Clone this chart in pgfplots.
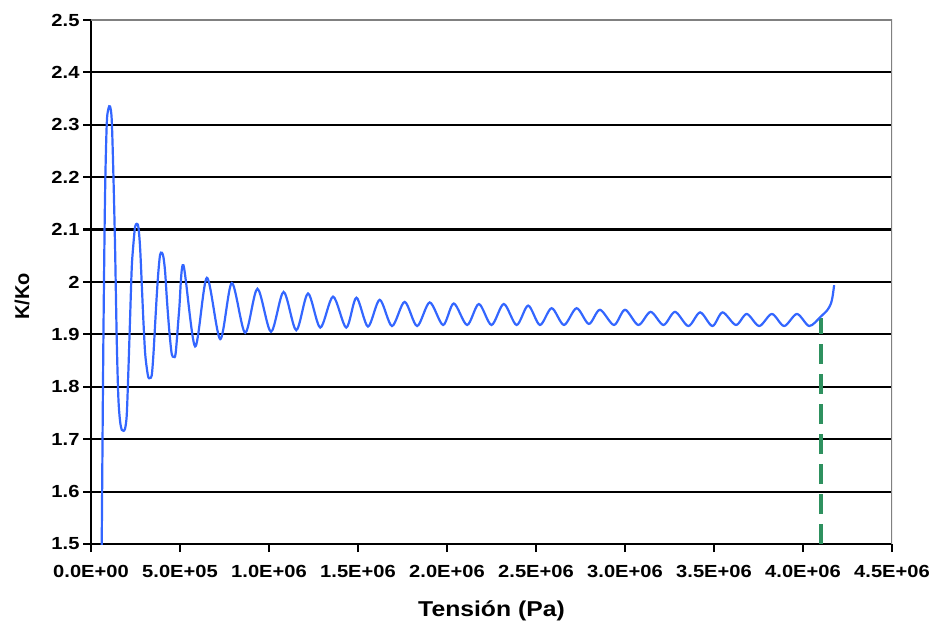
\documentclass[border=0pt]{standalone}
\usepackage{pgfplots}
\pgfplotsset{compat=1.18}
\usepackage{fontspec}
\setmainfont{Liberation Sans}
\newfontfamily\tickfont{Liberation Sans}[FakeStretch=1.15]
\definecolor{curveblue}{RGB}{51,102,255}
\definecolor{dashgreen}{RGB}{46,145,95}
\definecolor{framegray}{RGB}{128,128,128}
\begin{document}
\begin{tikzpicture}
\path[use as bounding box] (0,0) rectangle (931pt,624pt);
\begin{axis}[
  at={(91pt,80pt)}, anchor=south west,
  scale only axis, width=801pt, height=524pt,
  xmin=0, xmax=4500000, ymin=1.5, ymax=2.5,
  axis x line=bottom, axis y line=left,
  axis line style={-, line width=2.5pt, black},
  scaled x ticks=false, scaled y ticks=false,
  xtick={0,500000,1000000,1500000,2000000,2500000,3000000,3500000,4000000,4500000},
  xticklabels={0.0E+00,5.0E+05,1.0E+06,1.5E+06,2.0E+06,2.5E+06,3.0E+06,3.5E+06,4.0E+06,4.5E+06},
  ytick={1.5,1.6,1.7,1.8,1.9,2.0,2.1,2.2,2.3,2.4,2.5},
  yticklabels={1.5,1.6,1.7,1.8,1.9,2,2.1,2.2,2.3,2.4,2.5},
  tick align=outside, major tick length=8pt,
  major tick style={line width=2.2pt, black},
  ticklabel style={font=\tickfont\bfseries\fontsize{17.5}{20}\selectfont},
  xticklabel style={yshift=-10pt},
  ymajorgrids, grid style={black, line width=2.2pt},
  xlabel={Tensión (Pa)},
  ylabel={K/Ko},
  xlabel style={font=\tickfont\bfseries\fontsize{21.5}{26}\selectfont, at={(axis description cs:0.5,-0.1393)}, anchor=base},
  ylabel style={font=\bfseries\fontsize{20}{24}\selectfont, at={(axis description cs:-0.0861,0.473)}, anchor=center},
  clip=true,
]
\draw[framegray, line width=2.5pt] (rel axis cs:0,1) -- (rel axis cs:1,1) -- (rel axis cs:1,0);
\addplot[dashgreen, line width=4pt, dash pattern=on 20pt off 10pt] coordinates {(4100000,1.5) (4100000,1.931)};
\addplot[curveblue, line width=2.2pt, smooth, tension=0.5] coordinates {
(60000,1.49) (69200,1.876) (78750,2.162) (88300,2.300) (97300,2.330) (106900,2.335)
(116400,2.310) (125400,2.210) (135000,2.070) (144600,1.890) (153600,1.780) (163100,1.735)
(172700,1.718) (181700,1.716) (191250,1.720) (200800,1.746) (209800,1.828) (219400,1.929)
(228900,2.027) (237900,2.071) (247500,2.105) (257100,2.111) (266100,2.105) (275600,2.067)
(285200,1.996) (294200,1.927) (303750,1.866) (313300,1.836) (322300,1.818) (331900,1.817)
(341400,1.822) (350400,1.860) (360000,1.918) (369600,1.975) (378600,2.020) (388100,2.052)
(397700,2.056) (406700,2.048) (416250,2.020) (425800,1.970) (434800,1.928) (444400,1.890)
(453900,1.862) (465000,1.857) (476000,1.865) (495000,1.945)
(519200,2.032)
(585000,1.877) (651000,2.008) (726000,1.891) (791000,1.998) (866000,1.903) (935000,1.987)
(1011000,1.905) (1082000,1.981) (1153000,1.908) (1219000,1.978) (1288000,1.913) (1360000,1.972)
(1434000,1.913) (1491000,1.970) (1556000,1.915) (1622000,1.966) (1691000,1.916) (1762000,1.962)
(1832000,1.916) (1903000,1.961) (1978000,1.918) (2038000,1.959) (2113000,1.918) (2179000,1.958)
(2250000,1.918) (2319000,1.958) (2391000,1.918) (2456000,1.955) (2522000,1.918) (2588000,1.950)
(2657000,1.918) (2728000,1.950) (2797000,1.920) (2859000,1.947) (2938000,1.918) (3000000,1.947)
(3075000,1.918) (3144000,1.943) (3216000,1.918) (3281000,1.943) (3356000,1.916) (3422000,1.942)
(3491000,1.916) (3548000,1.942) (3623000,1.918) (3684000,1.939) (3754000,1.916) (3825000,1.939)
(3894000,1.916) (3966000,1.939) (4035000,1.916) (4100000,1.934) (4138000,1.947) (4157000,1.959)
(4166000,1.972) (4175000,1.994)
};
\end{axis}
\end{tikzpicture}
\end{document}
